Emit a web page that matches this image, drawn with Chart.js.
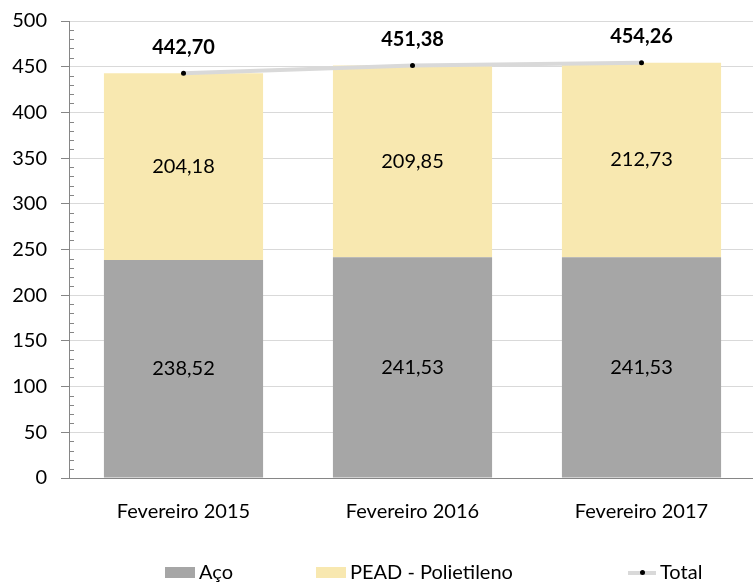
<!DOCTYPE html>
<html>
<head>
<meta charset="utf-8">
<script src="https://cdn.jsdelivr.net/npm/chart.js@4"></script>
<style>
  html, body { margin: 0; padding: 0; background: #fff; overflow: hidden; }
  #wrap { position: relative; width: 753px; height: 582px; overflow: hidden; }
  #chart { position: absolute; left: 0; top: -5px; }
  #legend { position: absolute; left: 0; top: 560px; width: 753px; height: 22px;
    font-family: Lato, sans-serif; font-size: 20px; color: #000; }
  .item { position: absolute; top: 0; height: 22px; line-height: 22px; white-space: nowrap; }
  .sw { display: inline-block; width: 30px; height: 11px; vertical-align: middle; margin-right: 4px; position: relative; top: -1px; }
  .ln { display: inline-block; width: 28px; height: 4px; background: #d9d9d9; vertical-align: middle; margin-right: 4px; position: relative; top: -1px; }
  .ln::after { content: ""; position: absolute; left: 12px; top: -1px; width: 5px; height: 5px; border-radius: 50%; background: #000; }
</style>
</head>
<body>
<div id="wrap">
  <canvas id="chart" width="760" height="587"></canvas>
  <div id="legend">
    <div class="item" style="left:165px"><span class="sw" style="background:#a6a6a6"></span>Aço</div>
    <div class="item" style="left:316px"><span class="sw" style="background:#f8e8b0"></span>PEAD - Polietileno</div>
    <div class="item" style="left:628px"><span class="ln"></span>Total</div>
  </div>
</div>
<script>
// data
const categories = ["Fevereiro 2015", "Fevereiro 2016", "Fevereiro 2017"];
const aco = [238.52, 241.53, 241.53];
const pead = [204.18, 209.85, 212.73];
const total = [442.70, 451.38, 454.26];

const FONT = "Lato, sans-serif";
const fmt = (v) => v.toFixed(2).replace(".", ",");

// minor ticks on the y axis (every 10) and value labels
const extras = {
  id: "extras",
  afterDatasetsDraw(chart) {
    const ctx = chart.ctx;
    const y = chart.scales.y;
    ctx.save();
    ctx.strokeStyle = "#868686";
    ctx.lineWidth = 1;
    for (let v = 0; v <= 500; v += 10) {
      if (v % 50 === 0) continue;
      const py = Math.round(y.getPixelForValue(v)) + 0.5;
      ctx.beginPath();
      ctx.moveTo(y.right, py);
      ctx.lineTo(y.right + 5, py);
      ctx.stroke();
    }

    ctx.fillStyle = "#000";
    ctx.textAlign = "center";
    ctx.textBaseline = "middle";
    ctx.font = "20px " + FONT;
    [0, 1].forEach((di) => {
      const meta = chart.getDatasetMeta(di);
      const vals = chart.data.datasets[di].data;
      meta.data.forEach((bar, i) => {
        ctx.fillText(fmt(vals[i]), bar.x, (bar.y + bar.base) / 2);
      });
    });
    ctx.font = "bold 20px " + FONT;
    const lineMeta = chart.getDatasetMeta(2);
    lineMeta.data.forEach((pt, i) => {
      ctx.fillText(fmt(total[i]), pt.x, pt.y - 26);
    });
    ctx.restore();
  }
};

new Chart(document.getElementById("chart"), {
  data: {
    labels: categories,
    datasets: [
      { type: "bar", label: "Aço", data: aco, backgroundColor: "#a6a6a6",
        barPercentage: 0.695, categoryPercentage: 1, order: 2 },
      { type: "bar", label: "PEAD - Polietileno", data: pead, backgroundColor: "#f8e8b0",
        barPercentage: 0.695, categoryPercentage: 1, order: 2 },
      { type: "line", label: "Total", data: total, borderColor: "#d9d9d9", borderWidth: 4,
        pointRadius: 2.5, pointBackgroundColor: "#000", pointBorderWidth: 0,
        tension: 0, order: 1 }
    ]
  },
  options: {
    responsive: false,
    animation: false,
    layout: { padding: { top: 7, right: 0, bottom: 48, left: 0 } },
    plugins: { legend: { display: false }, tooltip: { enabled: false } },
    scales: {
      x: {
        stacked: true,
        grid: { display: false },
        border: { display: true, color: "#868686" },
        ticks: { color: "#000", font: { family: FONT, size: 20 }, padding: 14 },
        afterFit(s) { s.height = 56; }
      },
      y: {
        stacked: true,
        min: 0, max: 500,
        ticks: { stepSize: 50, color: "#000", font: { family: FONT, size: 20 }, padding: 14 },
        grid: { color: "#d9d9d9", tickColor: "#868686", tickLength: 8 },
        border: { display: true, color: "#868686" },
        afterFit(s) { s.width = 69; }
      }
    }
  },
  plugins: [extras]
});
</script>
</body>
</html>
